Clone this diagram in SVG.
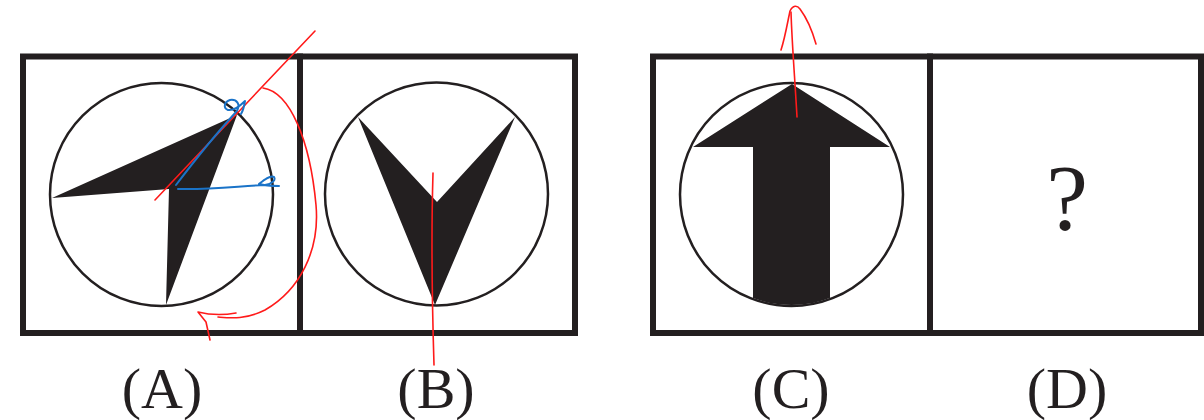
<svg xmlns="http://www.w3.org/2000/svg" width="1204" height="420" viewBox="0 0 1204 420">
<style>
.frame{fill:none;stroke:#231f20;stroke-width:6}
.ring{fill:none;stroke:#231f20;stroke-width:2.5}
.solid{fill:#231f20}
.lbl{font-family:"Liberation Serif","Times New Roman",serif;font-size:58px;fill:#231f20;text-anchor:middle}
.red{fill:none;stroke:#ff1a1a;stroke-width:1.6;stroke-linecap:round;stroke-linejoin:round}
.blue{fill:none;stroke:#1a73c8;stroke-width:2;stroke-linecap:round;stroke-linejoin:round}
</style>
<defs>
<clipPath id="clipC"><circle cx="791.5" cy="194.5" r="110.5"/></clipPath>
</defs>
<rect width="1204" height="420" fill="#fff"/>
<g id="panelA">
<rect class="frame" x="23" y="56.5" width="277" height="276.5"/>
<polygon class="solid" points="52,198 237,115 166,305 169,189"/>
<circle class="ring" cx="161.5" cy="194.5" r="111.5"/>
<text class="lbl" x="162" y="408">(A)</text>
</g>
<g id="panelB">
<rect class="frame" x="300" y="56.5" width="275" height="276.5"/>
<polygon class="solid" points="358,117 437,202 515,117 435,305"/>
<circle class="ring" cx="436.5" cy="194" r="111.5"/>
<text class="lbl" x="436" y="408">(B)</text>
</g>
<g id="panelC">
<rect class="frame" x="653" y="56.5" width="277" height="276.5"/>
<polygon class="solid" clip-path="url(#clipC)" points="792,84 890,147 830,147 830,312 753,312 753,147 693,147"/>
<circle class="ring" cx="791.5" cy="194.5" r="111.5"/>
<text class="lbl" x="791" y="408">(C)</text>
</g>
<g id="panelD">
<rect class="frame" x="930" y="56.5" width="271" height="276.5"/>
<text class="lbl" x="1067" y="229" style="font-size:94px">?</text>
<text class="lbl" x="1067" y="408">(D)</text>
</g>
<g id="connectors">
<path class="red" d="M315 31 L155 200"/>
<path class="red" d="M263 88 C290 92 310 140 316 205 C320 250 300 290 265 310 C245 320 230 318 218 317"/>
<path class="red" d="M236 313 C225 315 210 315 198 312 L206 322 L210 340"/>
<path class="blue" d="M176 185 C195 160 215 135 236 112 C242 104 236 99 230 100 C224 102 223 108 228 110 C234 111 240 106 245 101 C244 107 243 111 241 114"/>
<path class="blue" d="M178 189 C210 190 240 186 265 185 C272 184 276 180 274 177 C270 175 264 180 259 184 C266 186 272 186 279 186"/>
<path class="red" d="M797 117 C795 80 792 45 791 12"/>
<path class="red" d="M781 50 C785 38 788 20 790 11 C793 5 797 5 800 9 C806 17 812 30 816 44"/>
<path class="red" d="M433 173 C431 240 432 300 434 365"/>
</g>
</svg>
